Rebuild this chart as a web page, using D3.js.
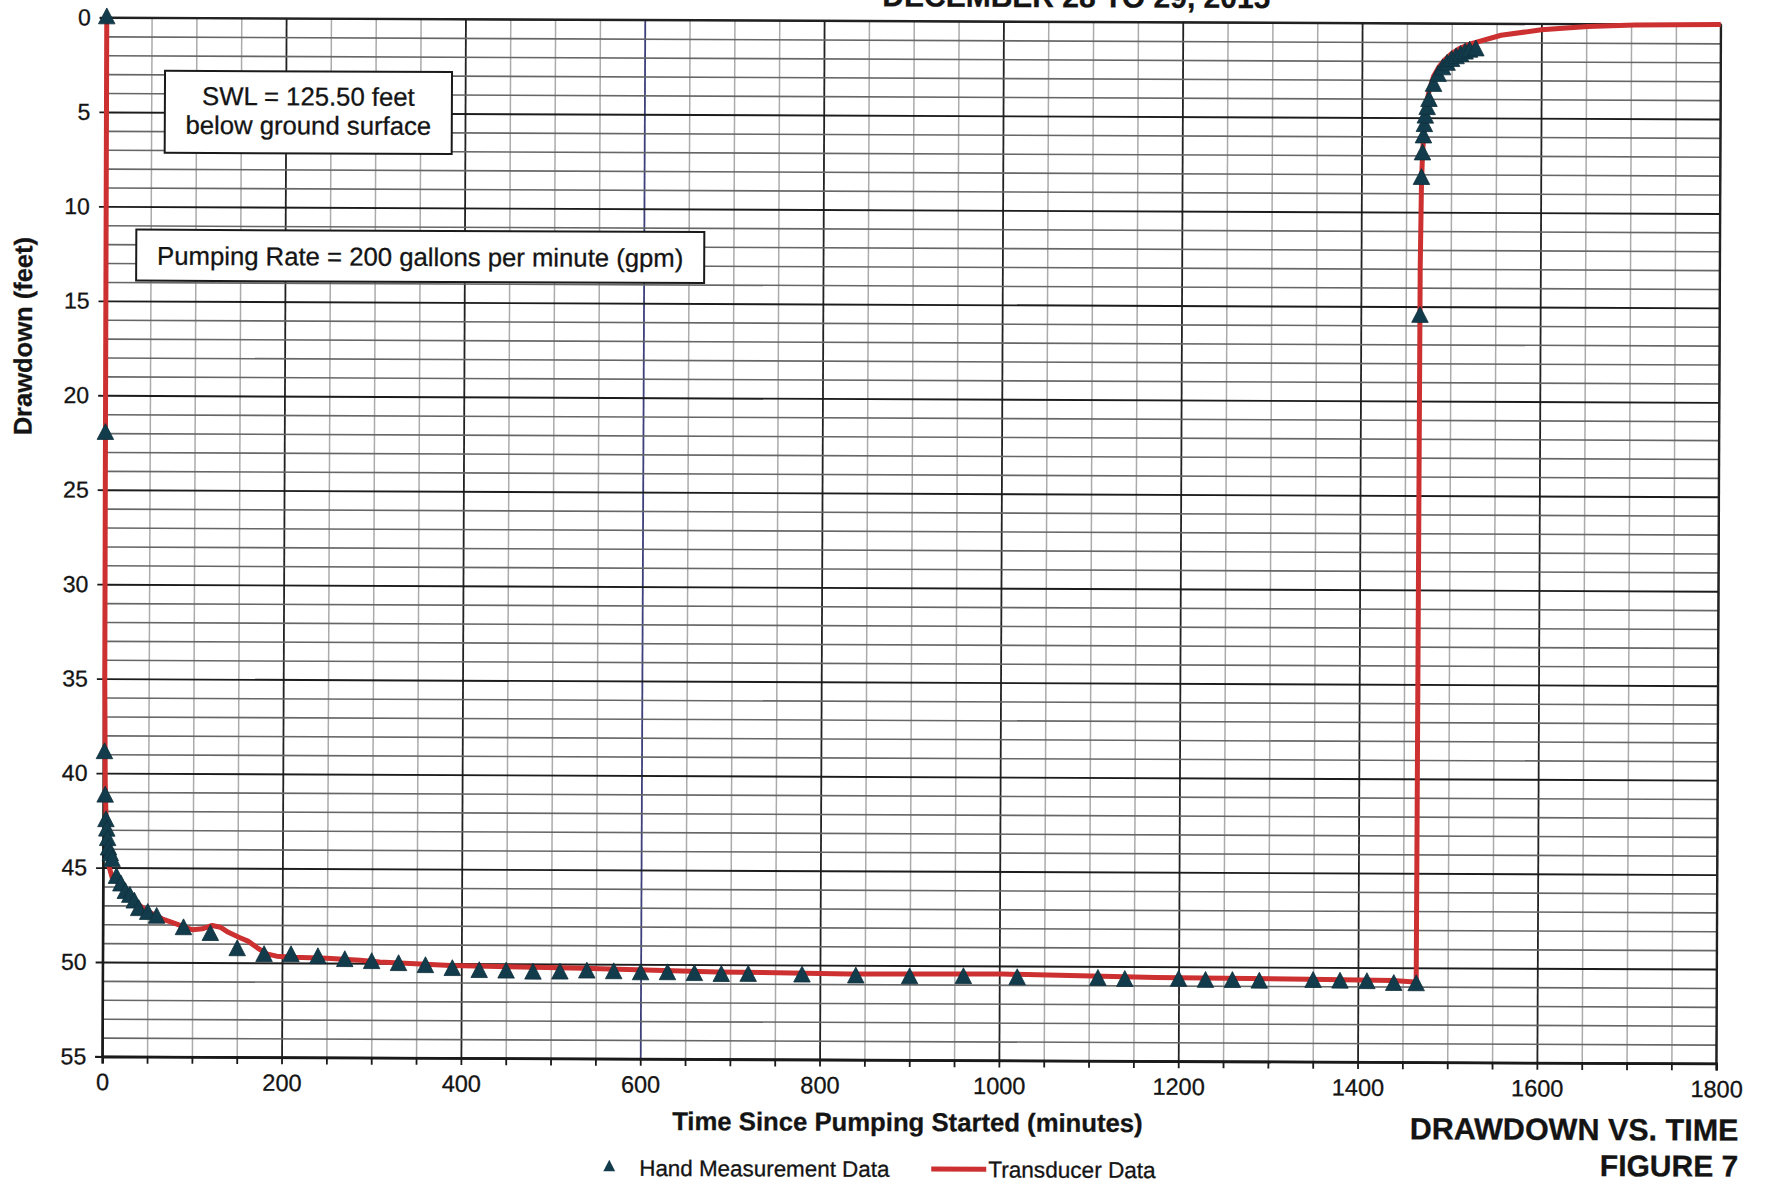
<!DOCTYPE html>
<html>
<head>
<meta charset="utf-8">
<script src="https://cdn.jsdelivr.net/npm/d3@7"></script>
<style>
  body { margin: 0; background: #fff; }
  text { font-family: "Liberation Sans", Arial, sans-serif; fill: #141414; stroke: #141414; stroke-width: 0.3px; }
</style>
</head>
<body>
<div id="chart"></div>
<script>

// hand measurements (minutes, feet of drawdown)
var handTime = [0, 0.5, 1, 2, 3, 4, 5, 6, 8, 10, 15, 20, 25, 30, 35, 40, 50, 60, 90, 120, 150, 180, 210, 240, 270, 300,
    330, 360, 390, 420, 450, 480, 510, 540, 570, 600, 630, 660, 690, 720, 780, 840, 900, 960, 1020, 1110, 1140, 1200,
    1230, 1260, 1290, 1350, 1380, 1410, 1440, 1465,
    1466, 1467, 1468, 1469, 1470, 1471, 1473, 1475, 1480, 1485, 1490, 1495, 1500, 1505, 1510, 1515, 1520, 1527];
var handDrawdown = [0, 22.0, 38.9, 41.2, 42.5, 43.0, 43.5, 44.0, 44.3, 44.6, 45.5, 45.9, 46.3, 46.5, 46.8, 47.2, 47.4, 47.6,
    48.2, 48.5, 49.3, 49.6, 49.6, 49.7, 49.85, 49.95,
    50.05, 50.15, 50.3, 50.4, 50.42, 50.47, 50.46, 50.4, 50.43, 50.48, 50.47, 50.51, 50.55, 50.54, 50.56, 50.6, 50.63,
    50.61, 50.65, 50.67, 50.72, 50.7, 50.75, 50.75, 50.78, 50.73, 50.76, 50.78, 50.87, 50.88,
    15.5, 8.2, 6.9, 6.0, 5.4, 4.95, 4.5, 4.07, 3.27, 2.74, 2.39, 2.15, 1.95, 1.8, 1.68, 1.55, 1.45, 1.38];

// transducer record
var transducerTime = [0, 0.5, 1, 2, 3, 5, 7, 10, 15, 20, 29, 40, 47.5, 66, 81, 100, 111, 122, 131, 140, 153, 162, 172,
    183, 194, 213, 250, 287, 309, 388, 536, 685, 833, 1004, 1175, 1345, 1439, 1463, 1465,
    1466, 1467, 1468, 1470, 1472, 1475, 1480, 1486, 1492, 1500, 1510, 1520, 1529, 1555, 1600, 1652, 1704, 1750, 1800];
var transducerDrawdown = [0, 20, 35, 40.5, 42.3, 44.0, 45.0, 45.5, 45.7, 46.0, 46.4, 46.95, 47.25, 47.7, 47.95, 48.27,
    48.22, 48.04, 48.13, 48.4, 48.68, 48.86, 49.2, 49.53, 49.65, 49.7, 49.75, 49.85, 49.93, 50.1, 50.22, 50.38, 50.46,
    50.43, 50.57, 50.63, 50.68, 50.75, 50.7,
    13.0, 8.5, 7.0, 5.3, 4.3, 3.6, 2.8, 2.3, 1.95, 1.6, 1.3, 1.1, 0.97, 0.62, 0.32, 0.14, 0.05, 0.02, 0];

var xTicks = [0, 200, 400, 600, 800, 1000, 1200, 1400, 1600, 1800];
var yTicks = [0, 5, 10, 15, 20, 25, 30, 35, 40, 45, 50, 55];
var xGrid = d3.range(0, 1801, 50);
var yGrid = d3.range(0, 56, 1);


// Excel style marker: a triangle a little taller than equilateral
var excelTriangle = {
    draw: function (context, size) {
        var w = Math.sqrt(size) * 1.25, h = Math.sqrt(size) * 1.2;
        context.moveTo(0, -h * 0.6);
        context.lineTo(w / 2, h * 0.4);
        context.lineTo(-w / 2, h * 0.4);
        context.closePath();
    }
};

function drawChart() {
    var width = 1765, height = 1184;
    var plotLeft = 104.5, plotRight = 1718.5, plotTop = 21, plotBottom = 1060;
    var red = '#cc3030', teal = '#123b4b';

    var x = d3.scaleLinear().domain([0, 1800]).range([plotLeft, plotRight]);
    var y = d3.scaleLinear().domain([0, 55]).range([plotTop, plotBottom]);

    var svg = d3.select('#chart')
        .append('svg')
        .attr('width', width)
        .attr('height', height);
    svg.append('rect').attr('width', width).attr('height', height).attr('fill', '#fff');

    // the scanned page sits slightly skewed
    var page = svg.append('g').attr('transform', 'rotate(0.25,911,540)');

    // vertical grid
    page.append('g')
        .attr('transform', 'translate(0,' + plotBottom + ')')
        .call(d3.axisBottom(x).tickValues(xGrid).tickSize(-(plotBottom - plotTop)).tickFormat(''))
        .call(g => g.select('.domain').remove())
        .selectAll('line')
        .attr('stroke', d => d === 600 ? '#3d407a' : (d % 200 === 0 ? '#222' : '#ababab'))
        .attr('stroke-width', d => d % 200 === 0 ? 1.8 : 1.5);

    // horizontal grid
    page.append('g')
        .attr('transform', 'translate(' + plotLeft + ',0)')
        .call(d3.axisLeft(y).tickValues(yGrid).tickSize(-(plotRight - plotLeft)).tickFormat(''))
        .call(g => g.select('.domain').remove())
        .selectAll('line')
        .attr('stroke', d => d % 5 === 0 ? '#1c1c1c' : '#666')
        .attr('stroke-width', d => d % 5 === 0 ? 1.9 : 1.6);

    page.append('rect')
        .attr('x', plotLeft).attr('y', plotTop)
        .attr('width', plotRight - plotLeft).attr('height', plotBottom - plotTop)
        .attr('fill', 'none')
        .attr('stroke', '#222')
        .attr('stroke-width', 2);

    // axes
    var yAxis = page.append('g')
        .attr('transform', 'translate(' + plotLeft + ',0)')
        .call(d3.axisLeft(y).tickValues(yTicks).tickSize(7).tickPadding(9));
    yAxis.select('.domain').attr('stroke', '#1a1a1a').attr('stroke-width', 2.2);
    yAxis.selectAll('line').attr('stroke', '#1a1a1a').attr('stroke-width', 1.8);
    yAxis.selectAll('text').style('font-size', '23px').attr('fill', '#141414');

    var xAxis = page.append('g')
        .attr('transform', 'translate(0,' + plotBottom + ')')
        .call(d3.axisBottom(x).tickValues(xGrid).tickSize(7).tickPadding(10)
            .tickFormat(d => xTicks.indexOf(d) >= 0 ? d : ''));
    xAxis.select('.domain').attr('stroke', '#1a1a1a').attr('stroke-width', 2.6);
    xAxis.selectAll('line').attr('stroke', '#1a1a1a').attr('stroke-width', 1.8);
    xAxis.selectAll('text').style('font-size', '23.5px').attr('fill', '#141414');

    // transducer line
    var transducer = transducerTime.map((t, i) => [t, transducerDrawdown[i]]);
    page.append('path')
        .datum(transducer)
        .attr('d', d3.line().x(d => x(d[0])).y(d => y(d[1])))
        .attr('fill', 'none')
        .attr('stroke', red)
        .attr('stroke-width', 5)
        .attr('stroke-linejoin', 'round');

    // hand measurement triangles
    var hand = handTime.map((t, i) => [t, handDrawdown[i]]);
    var tri = d3.symbol().type(excelTriangle).size(175);
    page.selectAll('.hand')
        .data(hand)
        .enter()
        .append('path')
        .attr('class', 'hand')
        .attr('d', tri)
        .attr('transform', d => 'translate(' + x(d[0]) + ',' + y(d[1]) + ')')
        .attr('fill', teal)
        .attr('stroke', '#0f2f3c')
        .attr('stroke-width', 0.8);

    // note boxes
    function noteBox(x0, y0, w, h, lines, baseline, gap) {
        page.append('rect')
            .attr('x', x0).attr('y', y0).attr('width', w).attr('height', h)
            .attr('fill', '#fff').attr('stroke', '#1a1a1a').attr('stroke-width', 2);
        lines.forEach(function (s, i) {
            page.append('text')
                .attr('x', x0 + w / 2)
                .attr('y', baseline + i * gap)
                .attr('text-anchor', 'middle')
                .style('font-size', '25.7px')
                .text(s);
        });
    }
    noteBox(163, 74, 287, 82, ['SWL = 125.50 feet', 'below ground surface'], 108, 29);
    noteBox(135, 233, 568, 51, ['Pumping Rate = 200 gallons per minute (gpm)'], 268, 0);

    // titles
    page.append('text')
        .attr('x', 1074).attr('y', 6.5)
        .attr('text-anchor', 'middle')
        .style('font-size', '30px').style('font-weight', 'bold')
        .text('DECEMBER 28 TO 29, 2015');

    page.append('text')
        .attr('transform', 'translate(31,340) rotate(-90)')
        .attr('text-anchor', 'middle')
        .style('font-size', '25.5px').style('font-weight', 'bold')
        .text('Drawdown (feet)');

    page.append('text')
        .attr('x', 910).attr('y', 1131)
        .attr('text-anchor', 'middle')
        .style('font-size', '25.7px').style('font-weight', 'bold')
        .text('Time Since Pumping Started (minutes)');

    page.append('text')
        .attr('x', 1741).attr('y', 1137)
        .attr('text-anchor', 'end')
        .style('font-size', '30.5px').style('font-weight', 'bold')
        .text('DRAWDOWN VS. TIME');

    page.append('text')
        .attr('x', 1741).attr('y', 1173)
        .attr('text-anchor', 'end')
        .style('font-size', '30px').style('font-weight', 'bold')
        .text('FIGURE 7');

    // legend
    var legend = page.append('g');
    legend.append('path')
        .attr('d', d3.symbol().type(excelTriangle).size(90))
        .attr('transform', 'translate(612,1168)')
        .attr('fill', teal);
    legend.append('text')
        .attr('x', 642).attr('y', 1177)
        .style('font-size', '22.4px')
        .text('Hand Measurement Data');
    legend.append('line')
        .attr('x1', 934).attr('x2', 989)
        .attr('y1', 1169).attr('y2', 1169)
        .attr('stroke', red).attr('stroke-width', 5);
    legend.append('text')
        .attr('x', 991).attr('y', 1177)
        .style('font-size', '22.6px')
        .text('Transducer Data');
}

drawChart();

</script>
</body>
</html>
